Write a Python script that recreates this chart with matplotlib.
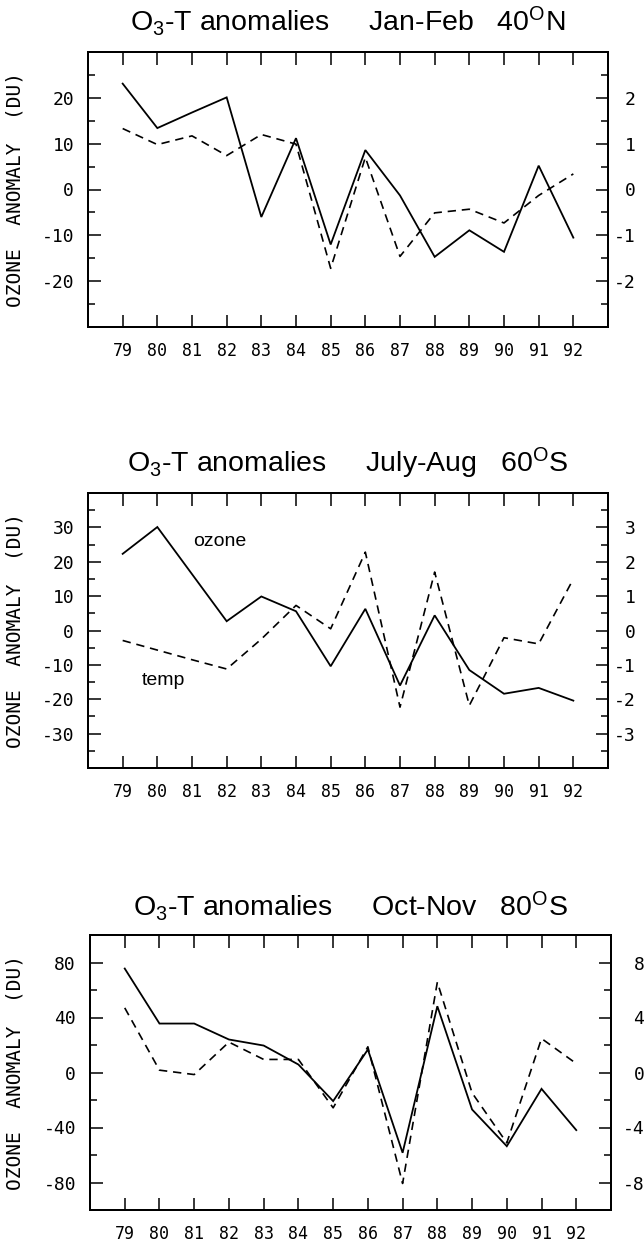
import matplotlib
matplotlib.use('Agg')
import matplotlib.pyplot as plt
from matplotlib.ticker import MultipleLocator

# ---------------- data ----------------
years = [79, 80, 81, 82, 83, 84, 85, 86, 87, 88, 89, 90, 91, 92]
year_labels = ['79', '80', '81', '82', '83', '84', '85', '86', '87', '88', '89', '90', '91', '92']

# Panel 1: Jan-Feb 40N
ozone_jf40n = [23.1, 13.4, 16.8, 20.1, -6.0, 11.2, -12.0, 8.6, -1.3, -14.7, -8.9, -13.6, 5.2, -10.5]
temp_jf40n = [1.33, 0.98, 1.17, 0.74, 1.20, 0.99, -1.72, 0.70, -1.46, -0.51, -0.43, -0.73, -0.13, 0.34]

# Panel 2: July-Aug 60S
ozone_ja60s = [22.3, 30.1, 16.4, 2.7, 9.9, 5.6, -10.4, 6.3, -16.0, 4.4, -11.5, -18.4, -16.7, -20.4]
temp_ja60s = [-0.29, -0.57, -0.85, -1.12, -0.25, 0.73, 0.05, 2.28, -2.23, 1.70, -2.18, -0.21, -0.39, 1.50]

# Panel 3: Oct-Nov 80S
ozone_on80s = [75.6, 35.6, 35.6, 24.0, 19.6, 5.8, -20.8, 16.7, -58.4, 48.2, -26.9, -53.6, -11.9, -41.9]
temp_on80s = [4.7, 0.17, -0.15, 2.21, 0.95, 0.95, -2.57, 1.87, -8.07, 6.57, -1.48, -5.12, 2.47, 0.65]

titles = [
    r'O$_3$-T anomalies     Jan-Feb   40$^{\mathrm{O}}$N',
    r'O$_3$-T anomalies     July-Aug   60$^{\mathrm{O}}$S',
    r'O$_3$-T anomalies     Oct-Nov   80$^{\mathrm{O}}$S',
]
left_ticks = [[-20, -10, 0, 10, 20], [-30, -20, -10, 0, 10, 20, 30], [-80, -40, 0, 40, 80]]
right_ticks = [[-2, -1, 0, 1, 2], [-3, -2, -1, 0, 1, 2, 3], [-8, -4, 0, 4, 8]]
left_lims = [(-30, 30), (-40, 40), (-100, 100)]
right_lims = [(-3, 3), (-4, 4), (-10, 10)]
left_minor = [5, 5, 20]
right_minor = [0.5, 0.5, 2]
ylabel_text = 'OZONE  ANOMALY  (DU)'

# ---------------- style ----------------
plt.rcParams['axes.unicode_minus'] = False
plt.rcParams['mathtext.fontset'] = 'custom'
plt.rcParams['mathtext.rm'] = 'Liberation Sans'
plt.rcParams['mathtext.it'] = 'Liberation Sans'
plt.rcParams['mathtext.bf'] = 'Liberation Sans'

W, H = 644, 1245
fig = plt.figure(figsize=(W / 100, H / 100), dpi=100)

# pixel boxes (left, right, top, bottom)
boxes = [(88, 608, 52, 327), (88, 608, 493, 768), (90, 611, 935, 1210)]
title_gap = [21, 21, 19]
right_pad = [20, 20, 24]

ozone_all = [ozone_jf40n, ozone_ja60s, ozone_on80s]
temp_all = [temp_jf40n, temp_ja60s, temp_on80s]

mono = 'DejaVu Sans Mono'
sans = 'Liberation Sans'

for i in range(3):
    l, r, t, b = boxes[i]
    ax = fig.add_axes([l / W, 1 - b / H, (r - l) / W, (b - t) / H])
    ax2 = ax.twinx()

    ax.plot(years, ozone_all[i], color='black', lw=1.3, solid_joinstyle='miter')
    ax2.plot(years, temp_all[i], color='black', lw=1.2, dashes=(5, 3.5))

    ax.set_xlim(78, 93)
    ax.set_ylim(*left_lims[i])
    ax2.set_ylim(*right_lims[i])

    ax.set_xticks(years)
    ax.set_xticklabels(year_labels, fontfamily=mono, fontsize=12)
    ax.set_yticks(left_ticks[i])
    ax.set_yticklabels([str(v) for v in left_ticks[i]], fontfamily=mono, fontsize=13)
    ax.yaxis.set_minor_locator(MultipleLocator(left_minor[i]))
    ax2.set_yticks(right_ticks[i], [str(v) for v in right_ticks[i]],
                   fontfamily=mono, fontsize=13, ha='right')
    ax2.yaxis.set_minor_locator(MultipleLocator(right_minor[i]))

    ax.tick_params(axis='x', which='major', direction='in', length=9, width=1.1,
                   top=True, pad=11)
    ax.tick_params(axis='y', which='major', direction='in', length=9, width=1.1, pad=10)
    ax.tick_params(axis='y', which='minor', direction='in', length=5, width=1.1)
    ax2.tick_params(axis='y', which='major', direction='in', length=9, width=1.1,
                    pad=right_pad[i])
    ax2.tick_params(axis='y', which='minor', direction='in', length=5, width=1.1)

    for a in (ax, ax2):
        for s in a.spines.values():
            s.set_linewidth(1.4)
            s.set_color('black')

    ax.set_ylabel(ylabel_text, fontfamily=mono, fontsize=14)
    ax.yaxis.set_label_coords(-(l - 25) / (r - l), 0.5)

    ax.text(0.5, 1 + title_gap[i] / (b - t), titles[i], transform=ax.transAxes,
            ha='center', va='baseline', fontsize=20.5, fontfamily=sans)

    if i == 1:
        ax.text(0.254, 0.822, 'ozone', transform=ax.transAxes, ha='center', va='center',
                fontsize=14, fontfamily=sans)
        ax.text(0.146, 0.32, 'temp', transform=ax.transAxes, ha='center', va='center',
                fontsize=14, fontfamily=sans)

fig.savefig('out.png', dpi=100)
